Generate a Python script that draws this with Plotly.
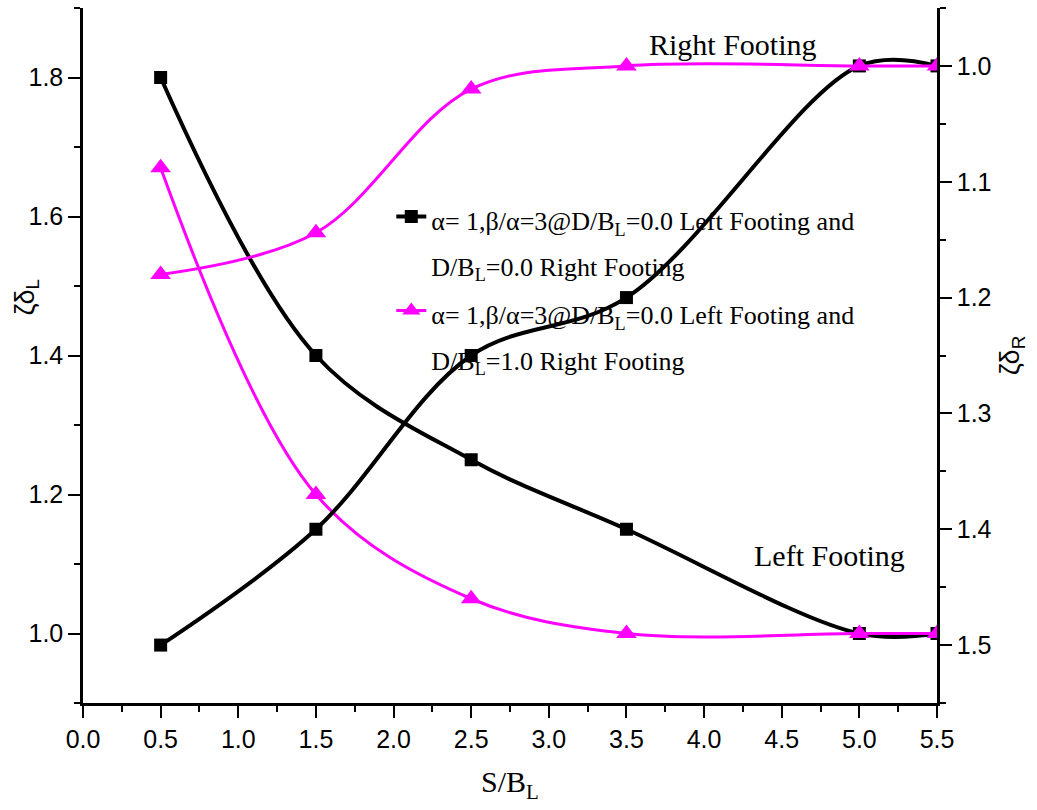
import plotly.graph_objects as go

# ---- data ----
s_over_b = [0.5, 1.5, 2.5, 3.5, 5.0, 5.5]

# alpha=1, beta/alpha=3, D/B_L=0.0 left & D/B_L=0.0 right
black_left = [1.80, 1.40, 1.25, 1.15, 1.00, 1.00]    # left axis (zeta delta_L)
black_right = [1.50, 1.40, 1.25, 1.20, 1.00, 1.00]   # right axis (zeta delta_R)

# alpha=1, beta/alpha=3, D/B_L=0.0 left & D/B_L=1.0 right
mag_left = [1.67, 1.20, 1.05, 1.00, 1.00, 1.00]      # left axis
mag_right = [1.18, 1.144, 1.02, 1.00, 1.00, 1.00]    # right axis

x_ticks = [0.0, 0.5, 1.0, 1.5, 2.0, 2.5, 3.0, 3.5, 4.0, 4.5, 5.0, 5.5]
yl_ticks = [1.0, 1.2, 1.4, 1.6, 1.8]
yr_ticks = [1.0, 1.1, 1.2, 1.3, 1.4, 1.5]

name1 = ('<span style="font-size:26px">α= 1,β/α=3@D/B<sub>L</sub>=0.0 Left Footing and</span>'
         '<br><span style="font-size:26px">D/B<sub>L</sub>=0.0 Right Footing</span>')
name2 = ('<span style="font-size:26px">α= 1,β/α=3@D/B<sub>L</sub>=0.0 Left Footing and</span>'
         '<br><span style="font-size:26px">D/B<sub>L</sub>=1.0 Right Footing</span>')

BLACK = "#000000"
MAG = "#FF00FF"
SERIF = "Liberation Serif"
SANS = "Liberation Sans"

fig = go.Figure()
fig.add_trace(go.Scatter(x=s_over_b, y=black_left, mode="lines+markers", name=name1,
                         legendgroup="a", line=dict(color=BLACK, width=4, shape="spline"),
                         marker=dict(symbol="square", size=13, color=BLACK)))
fig.add_trace(go.Scatter(x=s_over_b, y=black_right, yaxis="y2", mode="lines+markers", name=name1,
                         legendgroup="a", showlegend=False,
                         line=dict(color=BLACK, width=4, shape="spline"),
                         marker=dict(symbol="square", size=13, color=BLACK)))
fig.add_trace(go.Scatter(x=s_over_b, y=mag_left, mode="lines+markers", name=name2,
                         legendgroup="b", line=dict(color=MAG, width=3, shape="spline"),
                         marker=dict(symbol="triangle-up", size=18, color=MAG)))
fig.add_trace(go.Scatter(x=s_over_b, y=mag_right, yaxis="y2", mode="lines+markers", name=name2,
                         legendgroup="b", showlegend=False,
                         line=dict(color=MAG, width=3, shape="spline"),
                         marker=dict(symbol="triangle-up", size=18, color=MAG)))

tickfont = dict(family=SANS, size=25, color=BLACK)
common = dict(showline=True, linecolor=BLACK, linewidth=2.5, showgrid=False, zeroline=False,
              ticks="outside", ticklen=12, tickwidth=2, tickcolor=BLACK, tickfont=tickfont)

fig.update_layout(
    width=1037, height=810,
    margin=dict(l=83, r=100, t=8, b=107),
    paper_bgcolor="white", plot_bgcolor="white",
    showlegend=True,
    xaxis=dict(range=[0, 5.5], tickvals=x_ticks, tickformat=".1f",
               minor=dict(dtick=0.25, ticks="outside", ticklen=6, tickwidth=2, tickcolor=BLACK),
               title=dict(text="S/B<sub>L</sub>", font=dict(family=SERIF, size=30, color=BLACK),
                          standoff=20),
               **common),
    xaxis2=dict(range=[0, 5.5], overlaying="x", side="top", anchor="y", tickvals=x_ticks,
                showticklabels=False, showline=True, linecolor=BLACK, linewidth=2.5,
                showgrid=False, zeroline=False, ticks="inside", ticklen=12, tickwidth=2,
                tickcolor=BLACK,
                minor=dict(dtick=0.25, ticks="inside", ticklen=6, tickwidth=2, tickcolor=BLACK)),
    yaxis=dict(range=[0.9, 1.9], tickvals=yl_ticks, tickformat=".1f",
               minor=dict(dtick=0.1, ticks="outside", ticklen=6, tickwidth=2, tickcolor=BLACK),
               **common),
    yaxis2=dict(range=[1.55, 0.95], overlaying="y", side="right", anchor="x",
                tickvals=yr_ticks, tickformat=".1f",
                minor=dict(dtick=0.05, ticks="outside", ticklen=6, tickwidth=2, tickcolor=BLACK),
                title=dict(text="ζδ<sub>R</sub>", font=dict(family=SANS, size=27, color=BLACK),
                           standoff=10),
                **common),
    legend=dict(x=0.361, y=0.742, xanchor="left", yanchor="top", bgcolor="rgba(0,0,0,0)",
                borderwidth=0, valign="top", tracegroupgap=0,
                font=dict(family=SERIF, size=35, color=BLACK)),
    annotations=[
        dict(text="ζδ<sub>L</sub>", xref="paper", yref="paper", x=-0.066, y=0.583,
             textangle=-90, showarrow=False, xanchor="center", yanchor="middle",
             font=dict(family=SANS, size=27, color=BLACK)),
        dict(text="Right Footing", xref="paper", yref="paper", x=0.761, y=0.947,
             showarrow=False, xanchor="center", yanchor="middle",
             font=dict(family=SERIF, size=30, color=BLACK)),
        dict(text="Left Footing", xref="paper", yref="paper", x=0.874, y=0.212,
             showarrow=False, xanchor="center", yanchor="middle",
             font=dict(family=SERIF, size=30, color=BLACK)),
    ],
)

fig.write_html("out.html")
